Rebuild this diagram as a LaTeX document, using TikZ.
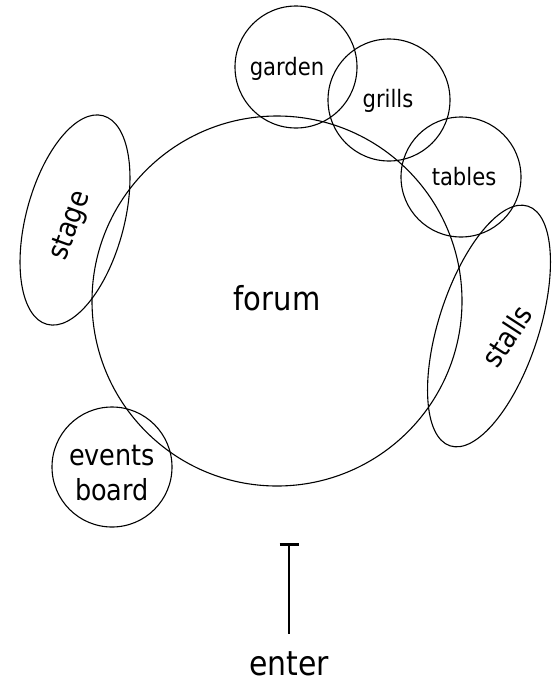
\documentclass[tikz,border=0pt]{standalone}
\usepackage{fontspec}
\setmainfont{DejaVu Sans}[FakeStretch=0.88]
\usetikzlibrary{shapes.geometric,arrows.meta}

\begin{document}
\begin{tikzpicture}[x=1pt,y=-1pt,
  zone/.style={draw, circle, line width=1.1pt, inner sep=0pt},
  oval/.style={draw, ellipse, line width=1.1pt, inner sep=0pt},
  lbl/.style={inner sep=0pt, font=\fontsize{24}{28}\selectfont},
  tiltlbl/.style={inner sep=0pt, font=\fontsize{29}{34}\selectfont},
  biglbl/.style={inner sep=0pt, font=\fontsize{33}{38}\selectfont},
  midlbl/.style={inner sep=0pt, align=center, font=\fontsize{29}{35}\selectfont}]
  \useasboundingbox (0,0) rectangle (552,683);

  % areas
  \node[zone, minimum size=370] (forum) at (277,301) {};
  \node[zone, minimum size=122] (garden) at (296,67) {};
  \node[zone, minimum size=122] (grills) at (389,100) {};
  \node[zone, minimum size=120] (tables) at (461,177) {};
  \node[zone, minimum size=120] (board) at (112,467) {};
  \node[oval, minimum width=216, minimum height=98, rotate=75] (stage) at (75,220) {};
  \node[oval, minimum width=252, minimum height=100, rotate=72] (stalls) at (489,326) {};

  % labels
  \node[biglbl, anchor=base] (forumtxt) at (277,310) {forum};
  \node[lbl, anchor=base] (gardentxt) at (287,75) {garden};
  \node[lbl, anchor=base] (grillstxt) at (388,107) {grills};
  \node[lbl, anchor=base] (tablestxt) at (464,185) {tables};
  \node[tiltlbl, rotate=70] (stagetxt) at (71,226) {stage};
  \node[tiltlbl, rotate=57] (stallstxt) at (507,336) {stalls};
  \node[midlbl, anchor=base] (eventstxt) at (112,465) {events};
  \node[midlbl, anchor=base] (boardtxt) at (112,500) {board};

  % entrance
  \node[biglbl, font=\fontsize{34}{38}\selectfont, anchor=base] (enter) at (289,675) {enter};
  \coordinate (gate) at (289,543);
  \draw[line width=1.8pt, shorten <=17pt, -{Bar[width=19pt, line width=3pt]}] (enter) -- (gate);
\end{tikzpicture}
\end{document}
